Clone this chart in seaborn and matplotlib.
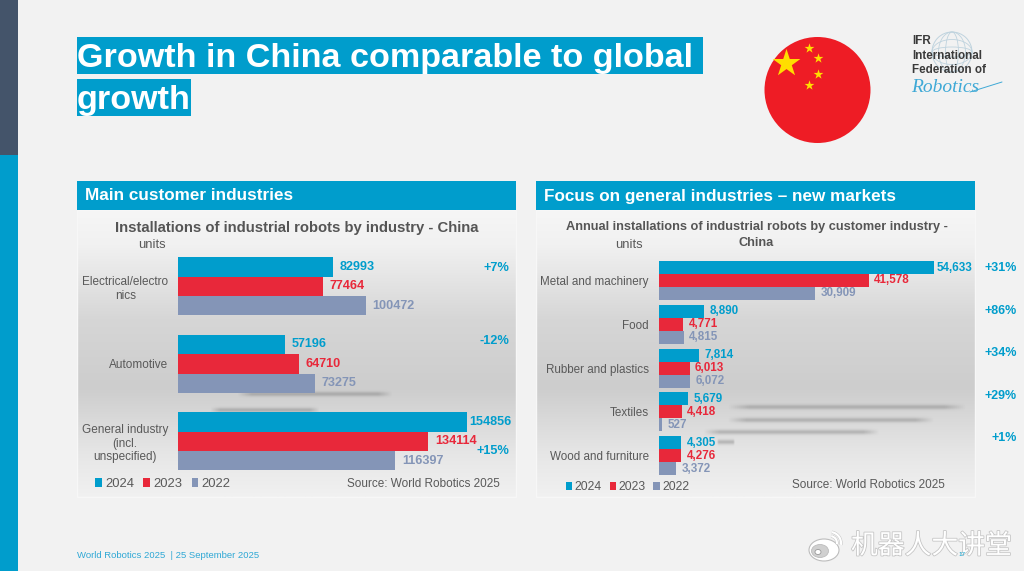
import numpy as np
import pandas as pd
import matplotlib
matplotlib.use("Agg")
import matplotlib.pyplot as plt
import matplotlib.patheffects as pe
from matplotlib.colors import LinearSegmentedColormap
from matplotlib.patches import Rectangle, Circle, Ellipse, Arc
import seaborn as sns

years = ["2024", "2023", "2022"]
left_categories = ["Electrical/electro\nnics", "Automotive", "General industry\n(incl.\nunspecified)"]
left_2024 = [82993, 57196, 154856]
left_2023 = [77464, 64710, 134114]
left_2022 = [100472, 73275, 116397]
left_growth = ["+7%", "-12%", "+15%"]

right_categories = ["Metal and machinery", "Food", "Rubber and plastics", "Textiles", "Wood and furniture"]
right_2024 = [54633, 8890, 7814, 5679, 4305]
right_2023 = [41578, 4771, 6013, 4418, 4276]
right_2022 = [30909, 4815, 6072, 527, 3372]
right_growth = ["+31%", "+86%", "+34%", "+29%", "+1%"]

BLUE = "#009DCC"
RED = "#E8283A"
SLATE = "#8495B7"
PAGE = "#F2F2F2"
LABEL = "#595959"
palette = dict(zip(years, [BLUE, RED, SLATE]))

sns.set_theme(style="white")
plt.rcParams["font.family"] = ["Liberation Sans", "DejaVu Sans"]

W, H = 1024, 571
fig = plt.figure(figsize=(W / 100, H / 100), dpi=100, facecolor=PAGE)


def px_axes(x0, y0, x1, y1, z):
    return fig.add_axes([x0 / W, 1 - y1 / H, (x1 - x0) / W, (y1 - y0) / H], zorder=z)


# ---------- background layer (pixel coordinates) ----------
bg = px_axes(0, 0, W, H, 0)
bg.set_xlim(0, W)
bg.set_ylim(H, 0)
bg.axis("off")
bg.add_patch(Rectangle((0, 0), 18, 155, color="#44546A", lw=0))
bg.add_patch(Rectangle((0, 155), 18, H - 155, color=BLUE, lw=0))

grad = LinearSegmentedColormap.from_list(
    "panel", [(0, "#F6F6F6"), (0.12, "#F1F1F1"), (0.38, "#D6D6D6"), (0.62, "#CDCDCD"), (0.85, "#E6E6E6"), (1, "#F1F1F1")]
)
ramp = np.linspace(0, 1, 256).reshape(-1, 1)
for x0, x1 in [(77, 516), (536, 975)]:
    bg.imshow(ramp, extent=(x0, x1, 497, 210), cmap=grad, aspect="auto", zorder=1)
    bg.add_patch(Rectangle((x0, 210), x1 - x0, 287, fill=False, ec="#F7F7F7", lw=1, zorder=2))
    bg.add_patch(Rectangle((x0, 181), x1 - x0, 29, color=BLUE, lw=0, zorder=3))


def smudge(x0, x1, y, s=2.4, a=0.36):
    xs = np.linspace(-1, 1, 120)
    ys = np.linspace(-2.5, 2.5, 25)
    alpha = np.exp(-ys[:, None] ** 2) * np.clip((1 - xs[None, :] ** 2) * 3, 0, 1) * a
    rgba = np.zeros(alpha.shape + (4,))
    rgba[..., :3] = 0.42
    rgba[..., 3] = alpha
    bg.imshow(rgba, extent=(x0, x1, y + 2.5 * s, y - 2.5 * s), aspect="auto", zorder=4)


for x0, x1, y in [(237, 393, 394), (210, 320, 410), (727, 967, 407), (727, 935, 420), (703, 880, 432), (717, 735, 442)]:
    smudge(x0, x1, y)
bg.set_xlim(0, W)
bg.set_ylim(H, 0)


# ---------- charts ----------
def chart(box, cats, v24, v23, v22, xmax, fmt, size, width, tick_size, pad, tick_pad):
    ax = px_axes(*box, 1)
    ax.patch.set_visible(False)
    df = pd.DataFrame({"category": cats, "2024": v24, "2023": v23, "2022": v22}).melt(
        id_vars="category", var_name="year", value_name="units"
    )
    sns.barplot(data=df, y="category", x="units", hue="year", hue_order=years, palette=palette,
                width=width, gap=0, saturation=1, ax=ax, legend=True, errorbar=None,
                linewidth=0, edgecolor="none")
    ax.set_xlim(0, xmax)
    ax.set_xlabel("")
    ax.set_ylabel("")
    ax.set_xticks([])
    ax.tick_params(axis="y", length=0, pad=tick_pad, labelsize=tick_size, labelcolor=LABEL)
    for t in ax.get_yticklabels():
        t.set_multialignment("center")
    sns.despine(ax=ax, left=True, bottom=True, top=True, right=True)
    biggest = max(v24)
    for cont, col in zip(ax.containers, [BLUE, RED, SLATE]):
        labels = ax.bar_label(cont, fmt=fmt, color=col, fontsize=size, fontweight="bold",
                              padding=pad, clip_on=False)
        for lab, bar in zip(labels, cont):
            if bar.get_width() == biggest:
                lab.xyann = (1.5, lab.xyann[1])
    return ax


axL = chart((178, 247.7, 516, 480), left_categories, left_2024, left_2023, left_2022,
            338 / 289 * 154856, "{:.0f}", 9.1, 0.75, 8.5, 5, 7)
axR = chart((659.3, 258.6, 975, 477.5), right_categories, right_2024, right_2023, right_2022,
            315.7 / 275 * 54633, "{:,.0f}", 8.4, 0.89, 8.4, 4, 7.5)


def legend(ax, x, y, fs, pad, col):
    h, l = ax.get_legend_handles_labels()
    ax.legend(h, l, ncol=3, loc="center left", bbox_to_anchor=(x / W, 1 - y / H),
              bbox_transform=fig.transFigure, frameon=False, fontsize=fs, labelcolor=LABEL,
              handlelength=0.52, handleheight=0.6, handletextpad=pad, columnspacing=col,
              borderaxespad=0, borderpad=0)


legend(axL, 95, 484, 9.4, 0.24, 0.72)
legend(axR, 566, 487.5, 8.7, 0.2, 0.65)

# ---------- text and decoration layer ----------
top = px_axes(0, 0, W, H, 3)
top.patch.set_visible(False)
top.set_xlim(0, W)
top.set_ylim(H, 0)
top.axis("off")


def T(x, y, s, size, color=LABEL, weight="normal", ha="left", va="center", **kw):
    return top.text(x, y, s, fontsize=size, color=color, fontweight=weight, ha=ha, va=va, **kw)


# title
top.add_patch(Rectangle((77, 37), 626, 37, color=BLUE, lw=0))
top.add_patch(Rectangle((77, 79), 114, 37, color=BLUE, lw=0))
T(77, 58, "Growth in China comparable to global", 24.6, "white", "bold")
T(77, 100, "growth", 24.6, "white", "bold")

# panel headers
T(85, 196, "Main customer industries", 12.3, "white", "bold")
T(544, 196, "Focus on general industries \u2013 new markets", 12.35, "white", "bold")

# chart titles
T(296.5, 228, "Installations of industrial robots by industry - China", 10.75, "#555555", "bold", ha="center")
T(757, 227, "Annual installations of industrial robots by customer industry -", 9.2, "#555555", "bold", ha="center")
T(756, 243, "China", 9.2, "#555555", "bold", ha="center")
T(152, 245, "units", 9.4, ha="center")
T(629, 245, "units", 9.4, ha="center")

# growth labels
for s, y in zip(left_growth, [268, 341, 451]):
    T(509, y, s, 9.2, BLUE, "bold", ha="right")
for s, y in zip(right_growth, [268, 311, 353, 396, 438]):
    T(1017, y, s, 9, BLUE, "bold", ha="right")

# source
T(500, 484, "Source: World Robotics 2025", 8.5, ha="right")
T(945, 485, "Source: World Robotics 2025", 8.45, ha="right")

# footer
T(77, 555, "World Robotics 2025  | 25 September 2025", 6.8, "#2FA8D5")

# flag
top.add_patch(Circle((817.5, 90), 53, color="#EE1C25", lw=0))
top.scatter([786], [63], marker="*", s=440, color="#FFDE00", linewidths=0)
top.scatter([809, 818, 818, 809], [48, 58, 74, 85], marker="*", s=55, color="#FFDE00", linewidths=0)

# logo
gx, gy = 952, 52
globe = "#BFD3DE"
top.add_patch(Circle((gx, gy), 20, fill=False, ec=globe, lw=0.7))
for w in (13, 27):
    top.add_patch(Ellipse((gx, gy), w, 40, fill=False, ec=globe, lw=0.6))
for h_ in (10, 25):
    top.add_patch(Ellipse((gx, gy), 40, h_, fill=False, ec=globe, lw=0.6))
T(912, 41, "IFR", 8.4, "#3A3A3A", "bold")
T(912, 56, "International", 8.4, "#3A3A3A", "bold")
T(912, 70, "Federation of", 8.4, "#3A3A3A", "bold")
top.text(911, 87.5, "Robotics", fontsize=14, color="#3FA9D6", style="italic", family="Liberation Serif", va="center")
top.plot([970, 1002], [92, 82], color="#3FA9D6", lw=0.7)

# watermark
shadow = [pe.withStroke(linewidth=1.2, foreground="#C6C6C6")]
top.text(851, 546, "机器人大讲堂", fontsize=19.3, color="white", family="Noto Sans CJK SC",
         va="center", path_effects=shadow)
top.add_patch(Ellipse((824, 550), 30, 22, fc="white", ec="#BDBDBD", lw=0.8))
top.add_patch(Ellipse((820, 551), 17, 13, fc="#D0D0D0", ec="#BDBDBD", lw=0.6))
top.add_patch(Ellipse((818, 552), 6, 5, fc="white", ec="#999999", lw=0.6))
for r in (14, 22):
    top.add_patch(Arc((830, 543), r, r, theta1=-80, theta2=10, ec="#FFFFFF", lw=1.6,
                      path_effects=[pe.withStroke(linewidth=2.2, foreground="#BDBDBD")]))
T(962, 555, "17", 4.5, BLUE, ha="center", zorder=10)

fig.savefig("out.png", dpi=100, facecolor=PAGE)
